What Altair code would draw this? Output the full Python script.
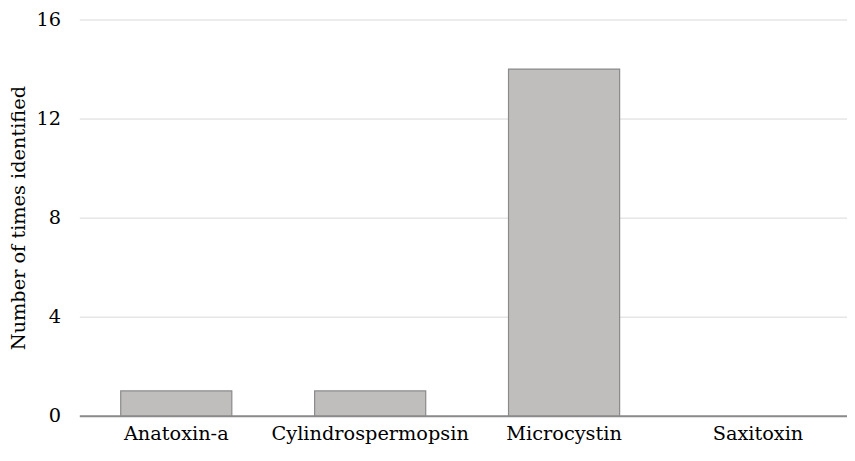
import altair as alt
import pandas as pd

categories = ["Anatoxin-a", "Cylindrospermopsin", "Microcystin", "Saxitoxin"]
counts = [1, 1, 14, 0]
y_ticks = [0, 4, 8, 12, 16]

df = pd.DataFrame({"toxin": categories, "count": counts})

FONT = "DejaVu Serif"

chart = alt.Chart(df).mark_bar(
    color="#bfbebc", stroke="#8a8a8a", strokeWidth=1.2
).encode(
    x=alt.X("toxin:N", sort=categories,
            scale=alt.Scale(domain=categories, range=[0, 783],
                            paddingInner=0.427, paddingOuter=0.2135),
            axis=alt.Axis(title=None, labelAngle=0, ticks=False, grid=False,
                          domainColor="#8a8a8a", domainWidth=2,
                          labelFont=FONT, labelFontSize=19.5, labelColor="#000000",
                          labelPadding=9, labelLimit=400)),
    y=alt.Y("count:Q", scale=alt.Scale(domain=[0, 16], nice=False),
            axis=alt.Axis(title="Number of times identified", values=y_ticks,
                          ticks=False, domain=False, grid=True,
                          gridColor="#d9d9d9", gridWidth=1,
                          labelFont=FONT, labelFontSize=19.5, labelColor="#000000",
                          labelPadding=19,
                          titleFont=FONT, titleFontSize=19.5, titleFontWeight="normal",
                          titleColor="#000000", titleAngle=-90,
                          titleX=-55, titleY=200, titleBaseline="alphabetic",
                          titleAlign="center", titleLimit=500))
).transform_filter(
    alt.datum["count"] > 0
).properties(
    width=775, height=400,
    autosize=alt.AutoSizeParams(type="none"),
    padding={"left": 72, "top": 9.5, "right": 0, "bottom": 35}
).configure_view(stroke=None)

chart.save("out.html", embed_options={"renderer": "svg", "actions": False})
